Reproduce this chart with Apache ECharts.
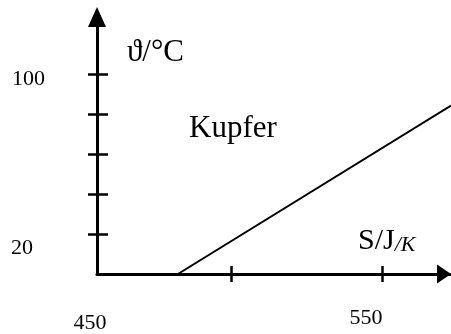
<!DOCTYPE html>
<html>
<head>
<meta charset="utf-8">
<script src="https://cdn.jsdelivr.net/npm/echarts@6/dist/echarts.min.js"></script>
<style>
html,body{margin:0;padding:0;background:#fff;}
#chart{width:451px;height:334px;}
</style>
</head>
<body>
<div id="chart"></div>
<script>
// Data
const sValues = [478.4, 574.2];      // S / J/K
const thetaValues = [20, 87.5];      // ϑ / °C
const xTickValues = [497, 550];
const xLabelValues = [450, 550];
const xLabelTexts = ['450', '550'];
const yTickValues = [36, 52, 68, 84, 100];
const yLabelValues = [20, 100];
const yLabelTexts = ['20', '100'];
const xName = 'S/J';
const xNameUnit = '/K';
const yName = 'ϑ/°C';
const annotation = 'Kupfer';

const FONT = '"Liberation Serif", "Times New Roman", serif';
const chart = echarts.init(document.getElementById('chart'), null, {renderer: 'canvas'});

const xMin = 450, xMax = 574.2, yMin = 20, yMax = 123;

const xLabelRich = {
  l0: {fontFamily: FONT, fontSize: 22, color: '#000', padding: [5, 14, 0, 0]},
  l1: {fontFamily: FONT, fontSize: 22, color: '#000', padding: [0, 32, 0, 0]}
};
const yLabelRich = {
  l0: {fontFamily: FONT, fontSize: 22, color: '#000', padding: [0, 12, 52, 0]},
  l1: {fontFamily: FONT, fontSize: 22, color: '#000', padding: [10, 0, 0, 0]}
};

const option = {
  animation: false,
  backgroundColor: '#fff',
  grid: {left: 97, right: 0, top: 17, bottom: 57, containLabel: false},
  xAxis: [
    {
      type: 'value', min: xMin, max: xMax,
      axisLine: {show: true, onZero: false, lineStyle: {color: '#000', width: 3},
        symbol: ['none', 'triangle'], symbolSize: [19, 14], symbolOffset: [0, -7]},
      axisTick: {show: true, inside: false, length: 8, customValues: xTickValues,
        lineStyle: {color: '#000', width: 2.5}},
      axisLabel: {show: true, margin: 33, customValues: xLabelValues,
        formatter: function (v) { const i = xLabelValues.indexOf(v); return '{l' + i + '|' + xLabelTexts[i] + '}'; },
        rich: xLabelRich},
      splitLine: {show: false}
    },
    {
      type: 'value', min: xMin, max: xMax, position: 'bottom',
      axisLine: {show: false, onZero: false},
      axisTick: {show: true, inside: true, length: 8, customValues: xTickValues,
        lineStyle: {color: '#000', width: 2.5}},
      axisLabel: {show: false},
      splitLine: {show: false}
    }
  ],
  yAxis: [
    {
      type: 'value', min: yMin, max: yMax,
      axisLine: {show: true, onZero: false, lineStyle: {color: '#000', width: 3},
        symbol: ['none', 'triangle'], symbolSize: [18, 20]},
      axisTick: {show: true, inside: false, length: 9, customValues: yTickValues,
        lineStyle: {color: '#000', width: 2.5}},
      axisLabel: {show: true, margin: 52, customValues: yLabelValues,
        formatter: function (v) { const i = yLabelValues.indexOf(v); return '{l' + i + '|' + yLabelTexts[i] + '}'; },
        rich: yLabelRich},
      splitLine: {show: false}
    },
    {
      type: 'value', min: yMin, max: yMax, position: 'left',
      axisLine: {show: false, onZero: false},
      axisTick: {show: true, inside: true, length: 11, customValues: yTickValues,
        lineStyle: {color: '#000', width: 2.5}},
      axisLabel: {show: false},
      splitLine: {show: false}
    }
  ],
  graphic: [
    {type: 'text', left: 127, top: 37,
      style: {text: yName, font: '31px ' + FONT, fill: '#000'}},
    {type: 'text', left: 189, top: 113,
      style: {text: annotation, font: '31px ' + FONT, fill: '#000'}},
    {type: 'text', left: 358, top: 226,
      style: {text: '{a|' + xName + '}{b|' + xNameUnit + '}',
        rich: {
          a: {fontFamily: FONT, fontSize: 30, color: '#000'},
          b: {fontFamily: FONT, fontSize: 22, fontStyle: 'italic', color: '#000', verticalAlign: 'bottom'}
        }}}
  ],
  series: [
    {
      type: 'line', xAxisIndex: 0, yAxisIndex: 0,
      data: sValues.map((s, i) => [s, thetaValues[i]]),
      showSymbol: false, clip: false,
      lineStyle: {color: '#000', width: 2},
      silent: true
    }
  ]
};
chart.setOption(option);
</script>
</body>
</html>
